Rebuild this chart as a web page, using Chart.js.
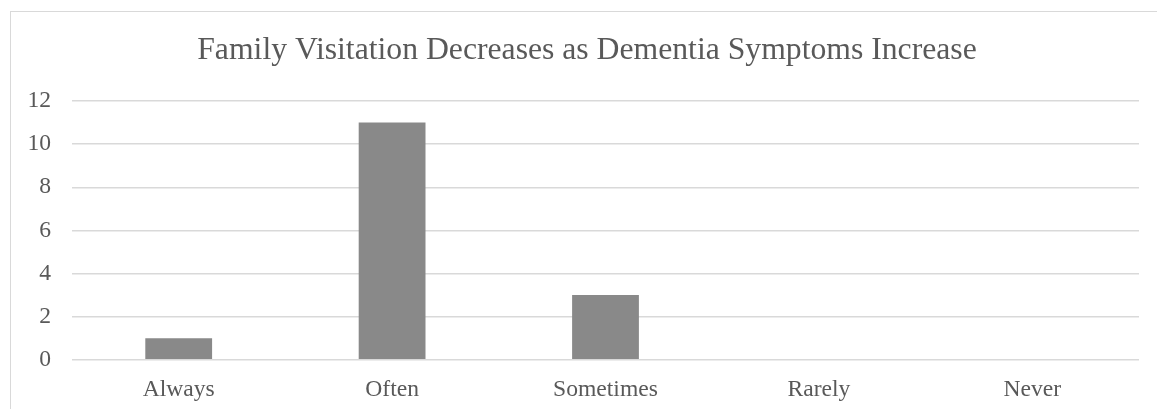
<!DOCTYPE html>
<html>
<head>
<meta charset="utf-8">
<script src="https://cdn.jsdelivr.net/npm/chart.js@4/dist/chart.umd.min.js"></script>
<style>
    html, body { margin: 0; padding: 0; background: #fff; overflow: hidden; }
    #frame {
        position: absolute; left: 10px; top: 11px;
        width: 1152px; height: 420px;
        border: 1px solid #d9d9d9;
    }
    #wrap { position: absolute; left: 0; top: 0; width: 1152px; height: 400px; }
</style>
</head>
<body>
<div id="frame">
    <div id="wrap"><canvas id="chart"></canvas></div>
</div>
<script>
    // 응답 범주와 인원 수
    const categories = ['Always', 'Often', 'Sometimes', 'Rarely', 'Never'];
    const counts = [1, 11, 3, 0, 0];
    const yTicks = [0, 2, 4, 6, 8, 10, 12];

    const titleText = 'Family Visitation Decreases as Dementia Symptoms Increase';
    const textColor = '#595959';
    const serif = "'Liberation Serif', 'Times New Roman', serif";

    // 제목은 오른쪽 여백과 상관없이 캔버스 전체 폭 기준으로 가운데 정렬
    const fullWidthTitle = {
        id: 'fullWidthTitle',
        afterLayout(chart) {
            const t = chart.titleBlock;
            if (!t) return;
            t.left = 0;
            t.right = chart.width;
            t.width = chart.width;
        }
    };

    const ctx = document.getElementById('chart').getContext('2d');

    new Chart(ctx, {
        type: 'bar',
        data: {
            labels: categories,
            datasets: [{
                label: 'Count',
                data: counts,
                backgroundColor: '#898989',
                borderWidth: 0,
                barPercentage: 0.313,
                categoryPercentage: 1
            }]
        },
        options: {
            responsive: true,
            maintainAspectRatio: false,
            animation: false,
            layout: {
                padding: { left: 0, right: 24, top: 0, bottom: 0 }
            },
            scales: {
                x: {
                    grid: { display: false },
                    border: { display: false },
                    ticks: {
                        color: textColor,
                        font: { family: serif, size: 23.6 },
                        padding: 8
                    }
                },
                y: {
                    min: 0,
                    max: 12,
                    afterBuildTicks: scale => {
                        scale.ticks = yTicks.map(v => ({ value: v }));
                    },
                    afterFit: scale => {
                        scale.width = 61;
                    },
                    grid: {
                        color: '#d9d9d9',
                        lineWidth: 1.5,
                        drawTicks: false
                    },
                    border: { display: false },
                    ticks: {
                        color: textColor,
                        font: { family: serif, size: 23.6 },
                        padding: 21
                    }
                }
            },
            plugins: {
                legend: { display: false },
                tooltip: { enabled: false },
                title: {
                    display: true,
                    text: titleText,
                    color: textColor,
                    font: { family: serif, size: 31.7, weight: 'normal' },
                    padding: { top: 20, bottom: 31 }
                }
            }
        },
        plugins: [fullWidthTitle]
    });
</script>
</body>
</html>
